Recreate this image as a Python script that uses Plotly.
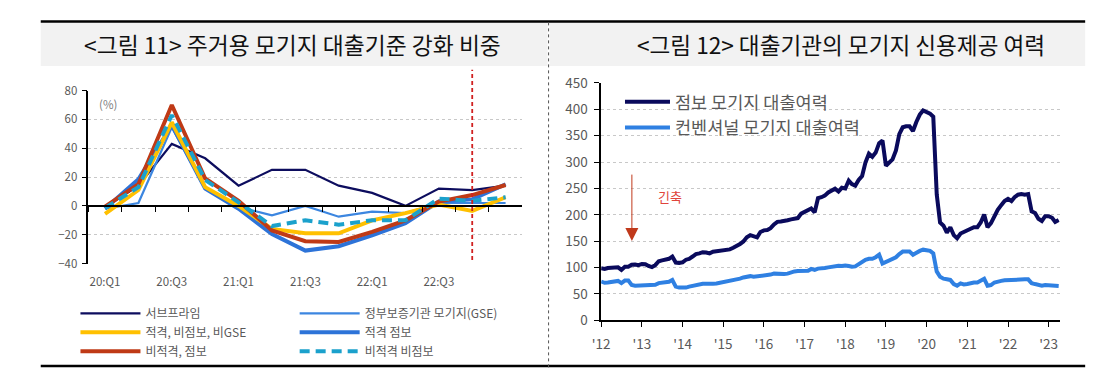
import pandas as pd
import plotly.graph_objects as go

W, H = 1106, 377
FONT = "Noto Sans CJK KR"

# ---------------- Left chart data (Figure 11) ----------------
quarters = ["20:Q1", "20:Q2", "20:Q3", "20:Q4", "21:Q1", "21:Q2", "21:Q3",
            "21:Q4", "22:Q1", "22:Q2", "22:Q3", "22:Q4", "23:Q1"]
quarter_ticks = ["20:Q1", "20:Q3", "21:Q1", "21:Q3", "22:Q1", "22:Q3"]
subprime = [-1, 14, 43, 33, 14, 25, 25, 14, 9, 0, 12, 11, 14]
gse = [-2, 2, 54.5, 12, -1, -6.5, 0, -7.5, -4, -5, 2, 2, 2]
conf_nonjumbo_nongse = [-5.5, 11, 58, 13, 0, -16, -19, -19, -10, -5, 1, -3.5, 6]
conf_jumbo = [-2, 18.5, 56, 12, -2, -19.5, -31, -28, -20.5, -12, 3, 4.5, 15]
nonconf_jumbo = [-0.5, 15, 70, 19, 3.5, -17, -24.5, -25, -18, -10, 3, 7.5, 14.5]
nonconf_nonjumbo = [-1.5, 13, 63, 18, 2.5, -14, -10, -13, -10, -10, 5, 3.5, 6]
marker_quarter = "22:Q4"

# ---------------- Right chart data (Figure 12) ----------------
months = pd.date_range("2012-01-01", "2023-04-01", freq="MS")
jumbo_capacity = [
    98.7, 97.5, 99.3, 100, 100.5, 100.5, 95.7, 101.7, 101.7, 105.3, 106, 104.7,
    107, 106.5, 103, 101, 104.7, 112, 113.7, 115.5, 116.7, 121, 109.5, 109,
    110, 115, 116.7, 121, 125.7, 127, 129.3, 128.7, 127, 130, 131, 132.9,
    133.5, 133.5, 134.6, 137.6, 140.6, 144.8, 149.6, 157.4, 161.6, 160.4, 157.4, 167.6,
    170.6, 171.2, 174.7, 181.9, 186.7, 187.3, 187.9, 189.7, 191.5, 192.7, 193.9, 202.3,
    205.9, 208.3, 212, 204.7, 231.6, 233.4, 236.4, 242.4, 246.6, 249.6, 244.2, 251.3,
    250, 265, 258.5, 255.5, 266, 273.5, 299, 316, 310, 318, 336, 341,
    293, 299, 305, 322, 353, 366, 368, 368, 359, 376, 390, 398,
    395, 392, 386, 239, 185.5, 179.5, 166.4, 176.5, 161.6, 155.6, 164.6, 167.6,
    170.6, 173.6, 176.5, 176.5, 185.5, 200.5, 176.5, 184.3, 198.7, 209.5, 218.4, 226.2,
    230.4, 226.2, 233.4, 238.2, 239.4, 238.2, 239.4, 206.5, 203.5, 192.7, 188.5, 197.5,
    197.5, 194.5, 186.7, 190.3,
]
conventional_capacity = [
    73.6, 71.2, 71.8, 73, 74.2, 74.8, 70.6, 75.4, 75.4, 67, 65.8, 65.8,
    67, 65.8, 67.6, 65.8, 67.6, 70.6, 71.2, 71.8, 73, 76.6, 64, 62.2,
    61.6, 62.2, 64, 65.8, 67, 68.2, 69.4, 69.4, 68.8, 69.4, 70, 71.2,
    71.8, 72.4, 73.6, 75.4, 77.8, 79, 81.4, 83.2, 83.8, 82.6, 83.2, 85.6,
    85.6, 86.2, 86.8, 88.6, 88, 86.8, 88, 88.6, 91, 92.8, 93.4, 94,
    95.2, 94, 97.5, 95.7, 98.1, 98.1, 99.3, 100.5, 101.7, 102.3, 103.5, 102.9,
    104.1, 102.9, 101.7, 102.3, 106.5, 110.7, 114.9, 116.7, 116.7, 119.7, 124.5, 107.7,
    110.7, 113.7, 115.5, 119.7, 125.7, 130.5, 130.5, 130.5, 124.5, 128.7, 131.7, 134,
    133.5, 131.7, 126.9, 92.8, 82.6, 79, 77.8, 76.6, 68.8, 65.8, 70, 68.2,
    68.8, 70.6, 71.8, 71.8, 74.8, 79, 65.8, 67, 71.8, 74.2, 74.8, 76,
    76.6, 76, 76.6, 77.2, 77.8, 77.8, 77.8, 70.6, 68.8, 67, 65.8, 67,
    66.4, 65.8, 64, 65.2,
]
year_tickvals = [f"{y}-01-01" for y in range(2012, 2024)]
year_ticktext = [f"'{str(y)[2:]}" for y in range(2012, 2024)]


def px_x(p):
    return p / W


def px_y(p):
    return (H - p) / H


# ---- geometry ----
L_X = [px_x(80), px_x(517.5)]
L_Y = [px_y(266.7), px_y(84)]
R_X = [px_x(597), px_x(1059.3)]
R_Y = [px_y(326.7), px_y(76)]
zero_pos = L_Y[0] + (0 - (-40)) / 120 * (L_Y[1] - L_Y[0])

fig = go.Figure()

left_series = [
    ("서브프라임", subprime, "#0D0D5E", 2.2, "solid", "legend", 1),
    ("정부보증기관 모기지(GSE)", gse, "#3C86E0", 2.2, "solid", "legend3", 1),
    ("적격 점보", conf_jumbo, "#2D73D8", 4, "solid", "legend3", 2),
    ("적격, 비점보, 비GSE", conf_nonjumbo_nongse, "#FFC000", 4, "solid", "legend", 2),
    ("비적격, 점보", nonconf_jumbo, "#BF3A16", 4, "solid", "legend", 3),
    ("비적격 비점보", nonconf_nonjumbo, "#1BA1CC", 4, "10px,6px", "legend3", 3),
]
for name, vals, color, width, dash, leg, rank in left_series:
    fig.add_trace(go.Scatter(
        x=quarters, y=vals, name=name, mode="lines",
        line=dict(color=color, width=width, dash=dash),
        xaxis="x", yaxis="y", legend=leg, legendrank=rank,
        hoverinfo="skip",
    ))

# invisible helper trace so the zero-line axis (x3) is drawn
fig.add_trace(go.Scatter(x=quarters, y=subprime, xaxis="x3", yaxis="y",
                         mode="lines", opacity=0, showlegend=False,
                         hoverinfo="skip"))

fig.add_trace(go.Scatter(
    x=months, y=jumbo_capacity, name="점보 모기지 대출여력", mode="lines",
    line=dict(color="#0A0A5C", width=4), xaxis="x2", yaxis="y2",
    legend="legend2", legendrank=1, hoverinfo="skip"))
fig.add_trace(go.Scatter(
    x=months, y=conventional_capacity, name="컨벤셔널 모기지 대출여력", mode="lines",
    line=dict(color="#2F80E2", width=4), xaxis="x2", yaxis="y2",
    legend="legend2", legendrank=2, hoverinfo="skip"))

tick_font = dict(family=FONT, size=11.5, color="#595959")
rtick_font = dict(family=FONT, size=13.5, color="#595959")
grid = dict(showgrid=True, gridcolor="#c8c8c8", griddash="dot", gridwidth=1)

shapes = [
    # title bars
    dict(type="rect", xref="paper", yref="paper", x0=px_x(32), x1=px_x(543),
         y0=px_y(58), y1=px_y(12), fillcolor="#f2f2f2", line=dict(width=0), layer="below"),
    dict(type="rect", xref="paper", yref="paper", x0=px_x(545), x1=px_x(1085),
         y0=px_y(58), y1=px_y(12), fillcolor="#f2f2f2", line=dict(width=0), layer="below"),
    # top / bottom rules
    dict(type="line", xref="paper", yref="paper", x0=px_x(32), x1=px_x(1085),
         y0=px_y(11), y1=px_y(11), line=dict(color="black", width=2.5)),
    dict(type="line", xref="paper", yref="paper", x0=px_x(32), x1=px_x(1085),
         y0=px_y(375), y1=px_y(375), line=dict(color="black", width=2.5)),
    # separator
    dict(type="line", xref="paper", yref="paper", x0=px_x(544), x1=px_x(544),
         y0=px_y(12), y1=0, line=dict(color="#555555", width=1, dash="dot")),
    # red dashed marker line at 22:Q4
    dict(type="line", xref="x", yref="paper", x0=marker_quarter, x1=marker_quarter,
         y0=px_y(263), y1=px_y(62), line=dict(color="#D02020", width=1.8, dash="4px,3px")),
    # white boxes behind the arrow / label (mask gridlines)
    dict(type="rect", xref="paper", yref="paper", x0=px_x(598), x1=px_x(636),
         y0=px_y(250), y1=px_y(170), fillcolor="white", line=dict(width=0), layer="between"),
    dict(type="rect", xref="paper", yref="paper", x0=px_x(636), x1=px_x(699),
         y0=px_y(222), y1=px_y(172), fillcolor="white", line=dict(width=0), layer="between"),
]

annotations = [
    dict(text="<그림 11> 주거용 모기지 대출기준 강화 비중", xref="paper", yref="paper",
         x=px_x(286), y=px_y(35), xanchor="center", yanchor="middle", showarrow=False,
         font=dict(family=FONT, size=22.8, color="#111111")),
    dict(text="<그림 12> 대출기관의 모기지 신용제공 여력", xref="paper", yref="paper",
         x=px_x(839), y=px_y(35), xanchor="center", yanchor="middle", showarrow=False,
         font=dict(family=FONT, size=22.6, color="#111111")),
    dict(text="(%)", xref="paper", yref="paper", x=px_x(100), y=px_y(98),
         xanchor="center", yanchor="middle", showarrow=False,
         font=dict(family=FONT, size=11.5, color="#7f7f7f")),
    dict(text="", xref="paper", yref="paper", x=px_x(628), y=px_y(243),
         ax=0, ay=-68, showarrow=True, arrowhead=2, arrowsize=2.6, arrowwidth=1,
         arrowcolor="#C0391B"),
    dict(text="긴축", xref="paper", yref="paper", x=px_x(666), y=px_y(196),
         xanchor="center", yanchor="middle", showarrow=False,
         font=dict(family=FONT, size=13, color="#E0443A")),
]

fig.update_layout(
    width=W, height=H,
    margin=dict(l=0, r=0, t=0, b=0),
    paper_bgcolor="white", plot_bgcolor="rgba(0,0,0,0)",
    font=dict(family=FONT, color="#595959"),
    xaxis=dict(domain=L_X, anchor="y", type="category", categoryorder="array",
               categoryarray=quarters, range=[-0.5, 12.5], tickmode="array",
               tickvals=quarter_ticks, ticktext=quarter_ticks, showline=False,
               ticks="", showgrid=False, zeroline=False, tickfont=tick_font,
               ticklabelstandoff=10),
    xaxis3=dict(overlaying="x", anchor="free", position=zero_pos, side="bottom",
                type="category", categoryorder="array", categoryarray=quarters,
                range=[-0.5, 12.5], tickmode="linear", tick0=0, dtick=1,
                tickson="boundaries", ticks="outside", ticklen=5, tickcolor="black",
                tickwidth=1.3, showticklabels=False, showline=True, linecolor="black",
                linewidth=1.5, showgrid=False, zeroline=False),
    yaxis=dict(domain=L_Y, anchor="x", range=[-40, 80], dtick=20, tickmode="linear",
               tick0=0, showline=True, linecolor="black", linewidth=1.5,
               ticks="outside", ticklen=5, tickcolor="black", tickwidth=1.3,
               zeroline=False, tickfont=tick_font, ticklabelstandoff=2, **grid),
    xaxis2=dict(domain=R_X, anchor="y2", type="date",
                range=["2012-01-01", "2023-04-10"], tickmode="array",
                tickvals=year_tickvals, ticktext=year_ticktext, showline=True,
                linecolor="black", linewidth=1.5, ticks="outside", ticklen=5,
                tickcolor="black", tickwidth=1.3, showgrid=False, zeroline=False,
                tickfont=rtick_font, ticklabelstandoff=6),
    yaxis2=dict(domain=R_Y, anchor="x2", range=[0, 450], dtick=50, tickmode="linear",
                tick0=0, showline=True, linecolor="black", linewidth=1.5,
                ticks="outside", ticklen=5, tickcolor="black", tickwidth=1.3,
                zeroline=False, tickfont=rtick_font, ticklabelstandoff=4, **grid),
    legend=dict(x=px_x(67), y=px_y(304), xanchor="left", yanchor="top",
                orientation="v", bgcolor="rgba(0,0,0,0)", borderwidth=0,
                traceorder="normal", tracegroupgap=0, itemwidth=60,
                font=dict(family=FONT, size=12, color="#595959")),
    legend3=dict(x=px_x(288), y=px_y(304), xanchor="left", yanchor="top",
                 orientation="v", bgcolor="rgba(0,0,0,0)", borderwidth=0,
                 traceorder="normal", tracegroupgap=0, itemwidth=60,
                 font=dict(family=FONT, size=12, color="#595959")),
    legend2=dict(x=px_x(616), y=px_y(77), xanchor="left", yanchor="top",
                 orientation="v", bgcolor="rgba(0,0,0,0)", borderwidth=0,
                 traceorder="normal", tracegroupgap=0, itemwidth=45,
                 font=dict(family=FONT, size=17.5, color="#595959")),
    shapes=shapes,
    annotations=annotations,
    showlegend=True,
)

fig.write_html(
    "out.html",
    config={"displayModeBar": False},
    post_script="document.body.style.margin='0';document.body.style.overflow='hidden';",
)
